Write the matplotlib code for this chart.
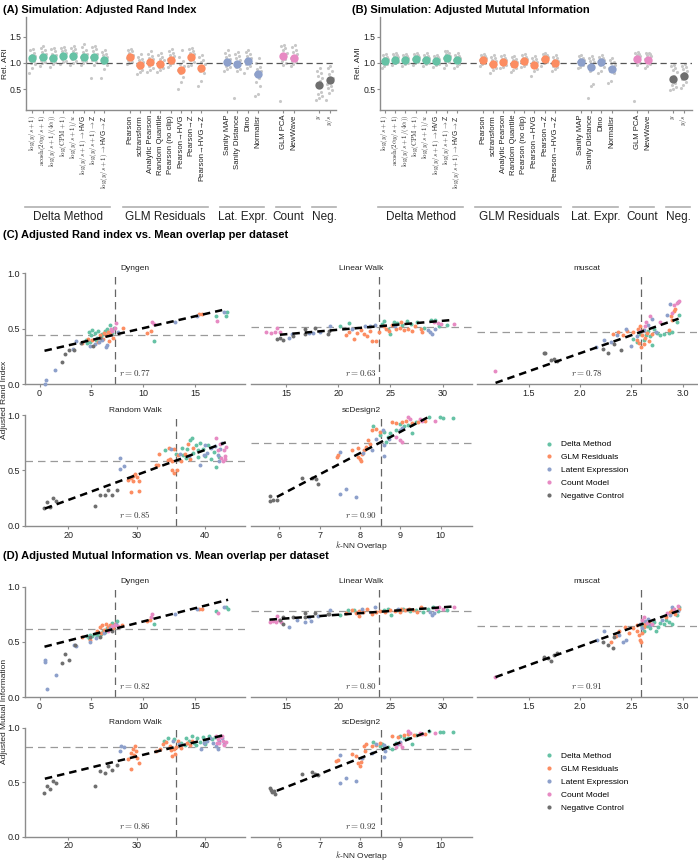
import numpy as np
import matplotlib
matplotlib.use("Agg")
import matplotlib.pyplot as plt
import matplotlib.transforms as mtransforms
from matplotlib.lines import Line2D

plt.rcParams['font.family'] = ['Liberation Sans', 'DejaVu Sans']
plt.rcParams['mathtext.fontset'] = 'cm'

# ---------------------------------------------------------------- data
CATEGORIES = ["Delta Method", "GLM Residuals", "Latent Expression", "Count Model", "Negative Control"]
COLORS = ["#66c2a5", "#fc8d62", "#8da0cb", "#e78ac3", "#6f6f6f"]
GROUP_SHORT = ["Delta Method", "GLM Residuals", "Lat. Expr.", "Count", "Neg."]
GROUP_SIZES = [8, 8, 4, 2, 2]
METHOD_LABELS = [
    r"$\log(y/s+1)$", r"$\mathrm{acosh}(2\alpha y/s+1)$", r"$\log(y/s+1/(4\alpha))$",
    r"$\log(\mathrm{CPM}+1)$", r"$\log(y/s+1)/u$", r"$\log(y/s+1)\to$HVG",
    r"$\log(y/s+1)\to$Z", r"$\log(y/s+1)\to$HVG$\to$Z",
    "Pearson", "sctransform", "Analytic Pearson", "Random Quantile", "Pearson (no clip)",
    "Pearson→HVG", "Pearson→Z", "Pearson→HVG→Z",
    "Sanity MAP", "Sanity Distance", "Dino", "Normalisr",
    "GLM PCA", "NewWave",
    r"$y$", r"$y/s$",
]

ARI_MEANS = [1.096, 1.115, 1.096, 1.128, 1.128, 1.109, 1.109, 1.064,
             1.109, 0.955, 1.019, 0.981, 1.064, 0.872, 1.115, 0.904,
             1.019, 0.981, 1.045, 0.795,
             1.128, 1.096,
             0.571, 0.667]
AMI_MEANS = [1.045, 1.064, 1.058, 1.071, 1.058, 1.038, 1.090, 1.051,
             1.064, 0.981, 1.019, 0.981, 1.038, 0.962, 1.077, 0.994,
             1.019, 0.923, 1.013, 0.885,
             1.077, 1.058,
             0.692, 0.750]

ARI_REPS = [
    [0.80, 0.90, 0.98, 1.00, 1.03, 1.06, 1.10, 1.13, 1.16, 1.20, 1.24, 1.27],
    [0.95, 1.00, 1.02, 1.06, 1.09, 1.12, 1.15, 1.18, 1.21, 1.24, 1.28, 1.33],
    [0.93, 0.98, 1.01, 1.04, 1.07, 1.10, 1.12, 1.15, 1.18, 1.22, 1.26, 1.29],
    [0.98, 1.01, 1.04, 1.08, 1.11, 1.14, 1.17, 1.19, 1.22, 1.25, 1.28, 1.31],
    [0.97, 1.00, 1.04, 1.07, 1.11, 1.14, 1.17, 1.20, 1.23, 1.26, 1.28, 1.33],
    [0.97, 1.00, 1.03, 1.06, 1.09, 1.12, 1.14, 1.18, 1.21, 1.25, 1.30, 1.36],
    [0.71, 0.97, 1.02, 1.05, 1.09, 1.12, 1.15, 1.18, 1.22, 1.26, 1.30, 1.32],
    [0.71, 0.88, 0.96, 1.00, 1.03, 1.06, 1.09, 1.12, 1.15, 1.18, 1.21, 1.25],
    [0.98, 1.00, 1.02, 1.05, 1.08, 1.10, 1.13, 1.16, 1.19, 1.22, 1.24, 1.26],
    [0.79, 0.82, 0.86, 0.90, 0.93, 0.96, 0.99, 1.02, 1.05, 1.08, 1.12, 1.18],
    [0.83, 0.87, 0.91, 0.95, 0.98, 1.01, 1.04, 1.07, 1.10, 1.14, 1.18, 1.22],
    [0.83, 0.86, 0.90, 0.93, 0.96, 0.99, 1.02, 1.05, 1.08, 1.12, 1.15, 1.19],
    [0.92, 0.96, 0.99, 1.02, 1.05, 1.07, 1.10, 1.13, 1.16, 1.19, 1.23, 1.27],
    [0.51, 0.64, 0.74, 0.80, 0.84, 0.87, 0.90, 0.94, 0.98, 1.04, 1.12, 1.24],
    [0.94, 0.97, 1.01, 1.05, 1.08, 1.11, 1.14, 1.17, 1.20, 1.23, 1.26, 1.28],
    [0.55, 0.65, 0.80, 0.84, 0.87, 0.90, 0.94, 0.98, 1.02, 1.06, 1.11, 1.15],
    [0.84, 0.88, 0.92, 0.95, 0.98, 1.01, 1.04, 1.07, 1.11, 1.15, 1.20, 1.25],
    [0.33, 0.85, 0.89, 0.93, 0.96, 0.99, 1.02, 1.05, 1.09, 1.13, 1.17, 1.21],
    [0.80, 0.90, 0.95, 0.98, 1.01, 1.04, 1.07, 1.10, 1.13, 1.17, 1.21, 1.24],
    [0.36, 0.40, 0.55, 0.63, 0.72, 0.78, 0.81, 0.84, 0.88, 0.93, 1.00, 1.10],
    [0.27, 0.96, 1.00, 1.04, 1.08, 1.12, 1.16, 1.20, 1.24, 1.28, 1.32, 1.35],
    [0.94, 0.98, 1.01, 1.04, 1.07, 1.10, 1.13, 1.17, 1.21, 1.25, 1.30, 1.35],
    [0.30, 0.33, 0.36, 0.40, 0.44, 0.58, 0.66, 0.72, 0.76, 0.80, 0.84, 0.90],
    [0.30, 0.42, 0.48, 0.53, 0.56, 0.60, 0.66, 0.72, 0.78, 0.84, 0.90, 0.95],
]
AMI_REPS = [
    [0.90, 0.95, 0.98, 1.00, 1.02, 1.04, 1.06, 1.08, 1.10, 1.12, 1.15, 1.18],
    [0.96, 0.99, 1.01, 1.03, 1.05, 1.07, 1.09, 1.11, 1.13, 1.15, 1.17, 1.19],
    [0.95, 0.98, 1.00, 1.02, 1.04, 1.06, 1.08, 1.10, 1.12, 1.14, 1.16, 1.18],
    [0.97, 1.00, 1.02, 1.04, 1.06, 1.08, 1.10, 1.12, 1.14, 1.16, 1.17, 1.19],
    [0.95, 0.98, 1.00, 1.02, 1.04, 1.06, 1.08, 1.10, 1.12, 1.14, 1.16, 1.20],
    [0.93, 0.96, 0.98, 1.00, 1.02, 1.04, 1.06, 1.08, 1.10, 1.12, 1.14, 1.16],
    [0.90, 0.97, 1.01, 1.04, 1.07, 1.09, 1.11, 1.14, 1.17, 1.20, 1.22, 1.23],
    [0.90, 0.95, 0.98, 1.01, 1.03, 1.05, 1.07, 1.09, 1.11, 1.13, 1.16, 1.19],
    [0.95, 0.98, 1.00, 1.02, 1.04, 1.06, 1.08, 1.10, 1.12, 1.14, 1.16, 1.18],
    [0.80, 0.86, 0.90, 0.93, 0.96, 0.98, 1.00, 1.03, 1.06, 1.09, 1.12, 1.15],
    [0.90, 0.93, 0.96, 0.98, 1.00, 1.02, 1.04, 1.06, 1.08, 1.10, 1.13, 1.16],
    [0.82, 0.87, 0.91, 0.94, 0.96, 0.98, 1.00, 1.02, 1.05, 1.08, 1.11, 1.14],
    [0.92, 0.95, 0.98, 1.00, 1.02, 1.04, 1.06, 1.08, 1.10, 1.12, 1.15, 1.17],
    [0.76, 0.84, 0.88, 0.92, 0.95, 0.97, 0.99, 1.01, 1.04, 1.07, 1.10, 1.14],
    [0.95, 0.99, 1.02, 1.04, 1.06, 1.08, 1.10, 1.12, 1.14, 1.16, 1.18, 1.19],
    [0.84, 0.88, 0.92, 0.95, 0.98, 1.00, 1.02, 1.04, 1.06, 1.09, 1.12, 1.15],
    [0.90, 0.93, 0.96, 0.98, 1.00, 1.02, 1.04, 1.06, 1.08, 1.10, 1.13, 1.15],
    [0.33, 0.55, 0.60, 0.85, 0.90, 0.94, 0.98, 1.01, 1.04, 1.07, 1.10, 1.14],
    [0.80, 0.85, 0.92, 0.96, 0.99, 1.01, 1.03, 1.05, 1.07, 1.09, 1.12, 1.15],
    [0.62, 0.66, 0.80, 0.84, 0.87, 0.90, 0.93, 0.96, 0.99, 1.02, 1.06, 1.10],
    [0.27, 0.96, 0.99, 1.02, 1.05, 1.08, 1.11, 1.14, 1.16, 1.18, 1.20, 1.21],
    [0.90, 0.95, 0.98, 1.01, 1.04, 1.07, 1.10, 1.13, 1.15, 1.17, 1.19, 1.20],
    [0.48, 0.51, 0.54, 0.57, 0.62, 0.70, 0.76, 0.82, 0.86, 0.90, 0.94, 0.97],
    [0.52, 0.58, 0.64, 0.69, 0.73, 0.77, 0.81, 0.85, 0.89, 0.92, 0.95, 0.98],
]

DATASETS = ["Dyngen", "Linear Walk", "muscat", "Random Walk", "scDesign2"]

# per-dataset (k-NN overlap, score) points for each category
ARI_DYNGEN = {
    "Delta Method": [(4.5,0.40),(4.6,0.37),(4.8,0.47),(5.0,0.44),(5.1,0.49),(5.3,0.46),(5.5,0.42),(5.6,0.48),(5.9,0.43),(6.0,0.45),(6.3,0.48),(6.5,0.50),(6.8,0.53),(7.0,0.46),(7.2,0.51),(4.9,0.38),(5.4,0.40),(11.06,0.39),(17.0,0.61),(18.0,0.61),(18.07,0.65)],
    "GLM Residuals": [(4.1,0.37),(4.7,0.41),(5.1,0.40),(5.6,0.38),(5.8,0.44),(6.2,0.46),(6.4,0.44),(6.6,0.47),(6.7,0.39),(6.9,0.49),(7.1,0.42),(6.1,0.41),(6.8,0.45),(8.0,0.51),(10.35,0.46),(10.7,0.48),(15.4,0.63),(15.7,0.63)],
    "Latent Expression": [(0.48,0.0),(0.6,0.04),(1.5,0.13),(3.2,0.32),(3.5,0.39),(4.9,0.34),(5.3,0.36),(6.5,0.35),(6.0,0.40),(7.6,0.47),(13.1,0.56),(15.2,0.61),(17.8,0.65),(5.7,0.38),(6.4,0.33)],
    "Count Model": [(7.4,0.55),(7.3,0.51),(6.9,0.50),(10.8,0.56),(11.0,0.54),(17.1,0.57),(7.0,0.48)],
    "Negative Control": [(2.15,0.196),(2.5,0.27),(2.8,0.31),(3.3,0.31),(4.0,0.37),(5.2,0.34),(5.8,0.42)],
}
ARI_LINEAR = {
    "Delta Method": [(20.2,0.52),(21.0,0.55),(24.2,0.54),(24.4,0.57),(24.8,0.50),(25.0,0.45),(25.6,0.55),(26.1,0.53),(26.6,0.57),(27.0,0.54),(27.6,0.56),(28.2,0.51),(28.9,0.58),(29.3,0.58),(30.4,0.53),(29.7,0.52),(25.3,0.56)],
    "GLM Residuals": [(20.7,0.44),(21.0,0.47),(21.5,0.41),(21.8,0.46),(22.2,0.49),(22.5,0.45),(23.2,0.39),(23.6,0.39),(22.8,0.43),(23.9,0.47),(24.6,0.50),(24.9,0.48),(25.5,0.50),(25.9,0.51),(26.3,0.49),(26.7,0.50),(27.1,0.48),(27.4,0.52),(27.9,0.50),(26.0,0.56),(24.4,0.52),(25.2,0.53),(28.0,0.47),(23.0,0.48)],
    "Latent Expression": [(15.3,0.42),(15.6,0.45),(17.2,0.46),(17.6,0.46),(18.2,0.47),(19.2,0.52),(21.3,0.50),(22.6,0.52),(23.06,0.52),(23.5,0.53),(28.8,0.47),(29.0,0.45),(29.3,0.50),(28.6,0.49),(25.4,0.52)],
    "Count Model": [(13.1,0.47),(13.5,0.46),(13.9,0.47),(14.1,0.51),(14.4,0.47),(29.6,0.55),(29.9,0.54),(31.1,0.54),(29.2,0.56)],
    "Negative Control": [(14.1,0.41),(14.7,0.40),(14.4,0.42),(15.7,0.43),(16.8,0.45),(16.8,0.50),(17.8,0.51),(19.0,0.45),(19.1,0.48)],
}
ARI_MUSCAT = {
    "Delta Method": [(2.55,0.38),(2.58,0.45),(2.62,0.40),(2.64,0.44),(2.66,0.48),(2.68,0.43),(2.70,0.35),(2.72,0.50),(2.75,0.46),(2.78,0.44),(2.82,0.45),(2.87,0.46),(2.90,0.47),(2.96,0.62),(2.94,0.56),(2.52,0.41)],
    "GLM Residuals": [(2.32,0.45),(2.37,0.47),(2.42,0.44),(2.46,0.48),(2.52,0.47),(2.55,0.40),(2.57,0.37),(2.59,0.33),(2.60,0.44),(2.61,0.49),(2.63,0.42),(2.65,0.46),(2.67,0.39),(2.70,0.45),(2.58,0.52),(2.90,0.58),(2.89,0.61),(2.93,0.68),(2.92,0.66),(2.87,0.49),(2.62,0.36),(2.56,0.50)],
    "Latent Expression": [(2.155,0.33),(2.23,0.40),(2.30,0.38),(2.36,0.44),(2.45,0.50),(2.50,0.34),(2.55,0.43),(2.62,0.49),(2.70,0.59),(2.66,0.53),(2.74,0.47),(2.85,0.62),(2.95,0.74),(2.88,0.72)],
    "Count Model": [(1.167,0.12),(2.64,0.56),(2.78,0.56),(2.945,0.73),(2.92,0.71),(2.90,0.64),(2.63,0.52),(2.58,0.48),(2.68,0.61),(2.96,0.75)],
    "Negative Control": [(1.647,0.283),(1.66,0.28),(1.715,0.22),(1.74,0.23),(1.77,0.21),(2.22,0.32),(2.27,0.28),(2.33,0.36),(2.40,0.31)],
}
ARI_RANDOM = {
    "Delta Method": [(34.2,0.68),(35.7,0.65),(36.6,0.70),(37.2,0.61),(37.8,0.77),(38.2,0.66),(38.6,0.73),(38.9,0.62),(39.3,0.75),(39.6,0.69),(40.0,0.63),(40.4,0.73),(40.9,0.60),(41.3,0.67),(41.5,0.53),(42.0,0.62),(38.0,0.79),(39.0,0.68),(37.3,0.69),(36.8,0.64)],
    "GLM Residuals": [(28.7,0.41),(29.1,0.43),(29.4,0.40),(29.7,0.47),(30.0,0.44),(30.4,0.40),(29.2,0.30),(30.4,0.31),(29.5,0.45),(32.8,0.55),(33.1,0.55),(33.2,0.65),(34.7,0.70),(34.9,0.60),(35.2,0.50),(35.4,0.48),(35.9,0.50),(35.5,0.69),(35.1,0.58),(34.6,0.59),(37.0,0.65),(37.5,0.74),(36.0,0.64),(38.2,0.70),(37.8,0.60),(36.5,0.58)],
    "Latent Expression": [(27.6,0.61),(27.6,0.51),(28.2,0.54),(35.0,0.69),(36.3,0.65),(39.2,0.55),(39.8,0.64),(40.3,0.66),(40.8,0.70),(41.4,0.72),(41.8,0.64),(42.2,0.69),(42.5,0.75),(42.0,0.58),(40.0,0.73),(37.6,0.63)],
    "Count Model": [(41.6,0.79),(41.9,0.68),(42.3,0.61),(42.6,0.58),(42.9,0.63),(42.7,0.68),(43.0,0.71),(42.1,0.74),(42.9,0.60)],
    "Negative Control": [(16.53,0.157),(16.9,0.21),(17.35,0.17),(17.8,0.25),(18.2,0.22),(23.86,0.18),(24.6,0.28),(25.3,0.28),(25.8,0.32),(26.4,0.28),(27.1,0.32)],
}
ARI_SCDESIGN = {
    "Delta Method": [(8.33,0.90),(8.5,0.82),(8.6,0.85),(8.7,0.80),(8.75,0.84),(8.9,0.86),(9.0,0.92),(9.1,0.90),(9.2,0.91),(9.3,0.92),(9.3,0.84),(9.7,0.98),(9.98,0.98),(10.05,0.97),(10.3,0.97),(8.65,0.76),(9.4,0.94)],
    "GLM Residuals": [(7.46,0.64),(7.42,0.62),(7.80,0.68),(7.96,0.62),(8.0,0.60),(8.02,0.58),(8.05,0.65),(8.1,0.68),(8.2,0.77),(8.25,0.74),(8.3,0.86),(8.4,0.87),(8.5,0.85),(8.8,0.94),(8.9,0.93),(9.05,0.94),(9.15,0.95),(9.3,0.93),(9.45,0.94),(9.6,0.95),(7.95,0.70),(8.15,0.71)],
    "Latent Expression": [(7.5,0.67),(7.5,0.29),(7.65,0.33),(7.9,0.26),(8.07,0.66),(8.3,0.68),(8.4,0.78),(8.56,0.86),(8.6,0.73),(8.6,0.63),(8.98,0.86),(9.03,0.88),(8.72,0.78)],
    "Count Model": [(8.9,0.80),(9.0,0.77),(9.05,0.76),(9.2,0.98),(9.25,0.96),(9.5,0.96),(9.55,0.95),(9.85,0.95)],
    "Negative Control": [(5.77,0.27),(5.78,0.22),(5.85,0.23),(5.93,0.23),(6.56,0.43),(6.8,0.43),(6.9,0.42),(6.95,0.38)],
}

AMI_DYNGEN = {
    "Delta Method": [(4.6,0.55),(4.9,0.56),(5.1,0.55),(5.3,0.57),(5.5,0.56),(5.7,0.58),(5.9,0.57),(6.1,0.60),(6.3,0.59),(6.5,0.62),(6.8,0.64),(7.0,0.67),(7.5,0.69),(11.0,0.66),(17.0,0.78),(18.0,0.81),(18.2,0.80),(4.8,0.53)],
    "GLM Residuals": [(4.1,0.545),(4.9,0.52),(5.5,0.60),(5.8,0.63),(6.0,0.65),(6.2,0.61),(6.4,0.66),(6.6,0.63),(6.8,0.65),(7.1,0.62),(7.94,0.65),(10.35,0.69),(10.6,0.70),(15.4,0.80),(15.7,0.80),(5.9,0.58),(7.3,0.66)],
    "Latent Expression": [(0.48,0.335),(0.48,0.314),(0.7,0.07),(1.6,0.20),(3.3,0.47),(3.5,0.46),(4.9,0.50),(5.4,0.53),(6.2,0.58),(6.8,0.62),(7.4,0.66),(13.1,0.75),(15.2,0.80),(17.8,0.81)],
    "Count Model": [(6.6,0.60),(7.0,0.64),(7.3,0.65),(7.6,0.64),(10.8,0.75),(10.7,0.72),(17.2,0.76)],
    "Negative Control": [(2.15,0.31),(2.5,0.39),(2.8,0.335),(3.4,0.47),(4.9,0.54),(5.85,0.545),(7.0,0.60)],
}
AMI_LINEAR = {
    "Delta Method": [(20.2,0.74),(20.9,0.79),(21.5,0.79),(24.4,0.79),(24.8,0.80),(25.1,0.74),(25.6,0.79),(26.2,0.80),(26.9,0.78),(27.5,0.79),(28.1,0.77),(28.6,0.80),(29.1,0.81),(30.4,0.79),(29.6,0.78)],
    "GLM Residuals": [(20.7,0.76),(21.3,0.785),(21.7,0.76),(22.0,0.78),(22.4,0.77),(22.8,0.80),(23.2,0.75),(23.6,0.77),(24.0,0.78),(24.5,0.77),(25.0,0.79),(25.4,0.78),(25.9,0.77),(26.4,0.79),(26.8,0.80),(27.2,0.79),(27.6,0.77),(27.9,0.81),(22.0,0.73),(26.0,0.80)],
    "Latent Expression": [(15.3,0.63),(16.0,0.70),(16.8,0.68),(17.2,0.72),(17.4,0.69),(18.1,0.73),(19.2,0.79),(22.3,0.80),(23.5,0.81),(28.8,0.77),(29.0,0.745),(29.2,0.76),(25.7,0.80)],
    "Count Model": [(13.46,0.68),(13.7,0.69),(14.0,0.68),(14.1,0.73),(14.3,0.70),(14.5,0.68),(29.7,0.81),(30.0,0.80),(31.1,0.81),(29.4,0.80)],
    "Negative Control": [(14.7,0.66),(14.4,0.70),(14.7,0.72),(15.7,0.72),(16.8,0.72),(16.8,0.76),(17.8,0.76),(19.0,0.75),(19.1,0.75)],
}
AMI_MUSCAT = {
    "Delta Method": [(2.62,0.60),(2.65,0.64),(2.68,0.62),(2.70,0.66),(2.72,0.68),(2.74,0.60),(2.76,0.63),(2.78,0.67),(2.82,0.66),(2.84,0.70),(2.87,0.68),(2.90,0.66),(2.94,0.74),(2.96,0.81),(2.60,0.64)],
    "GLM Residuals": [(2.30,0.50),(2.35,0.55),(2.38,0.60),(2.44,0.635),(2.48,0.58),(2.52,0.62),(2.55,0.60),(2.57,0.56),(2.58,0.52),(2.59,0.50),(2.60,0.58),(2.62,0.63),(2.63,0.66),(2.67,0.68),(2.84,0.72),(2.88,0.77),(2.90,0.79),(2.93,0.75),(2.96,0.80),(2.55,0.65)],
    "Latent Expression": [(2.16,0.52),(2.23,0.60),(2.38,0.56),(2.42,0.50),(2.45,0.52),(2.58,0.66),(2.60,0.62),(2.63,0.69),(2.66,0.71),(2.68,0.65),(2.80,0.70),(2.88,0.74),(2.95,0.78),(2.90,0.81)],
    "Count Model": [(1.167,0.18),(2.60,0.70),(2.62,0.72),(2.65,0.67),(2.85,0.76),(2.92,0.80),(2.95,0.82),(2.70,0.66)],
    "Negative Control": [(1.647,0.365),(1.69,0.35),(1.715,0.33),(1.74,0.38),(1.77,0.396),(2.22,0.50),(2.27,0.47),(2.33,0.54),(2.32,0.44)],
}
AMI_RANDOM = {
    "Delta Method": [(34.0,0.88),(34.5,0.90),(35.5,0.89),(36.4,0.86),(37.2,0.90),(37.6,0.88),(38.1,0.92),(38.4,0.86),(38.8,0.90),(39.2,0.87),(39.6,0.91),(40.1,0.88),(40.6,0.92),(41.0,0.89),(41.4,0.91),(42.1,0.92),(38.6,0.84),(39.9,0.85),(37.0,0.84)],
    "GLM Residuals": [(28.7,0.71),(29.1,0.62),(29.2,0.77),(29.4,0.80),(29.6,0.75),(29.9,0.78),(30.1,0.72),(30.3,0.67),(29.7,0.83),(32.8,0.78),(33.4,0.80),(33.8,0.85),(34.3,0.87),(34.8,0.83),(35.2,0.74),(35.4,0.80),(35.6,0.76),(35.8,0.82),(36.0,0.88),(35.0,0.79),(36.5,0.81),(37.4,0.86),(38.0,0.88),(37.8,0.84)],
    "Latent Expression": [(27.6,0.78),(27.7,0.83),(28.2,0.82),(35.3,0.88),(36.2,0.85),(39.4,0.80),(39.8,0.86),(40.3,0.88),(40.7,0.90),(41.2,0.86),(41.6,0.83),(42.0,0.88),(42.4,0.90),(42.7,0.85),(41.9,0.80)],
    "Count Model": [(41.5,0.92),(41.8,0.89),(42.0,0.86),(42.3,0.91),(42.6,0.88),(42.8,0.84),(43.0,0.87),(42.5,0.92),(41.7,0.86)],
    "Negative Control": [(16.53,0.40),(16.9,0.46),(17.35,0.44),(17.8,0.51),(18.2,0.49),(23.86,0.46),(24.6,0.60),(25.3,0.58),(25.8,0.65),(26.4,0.61),(27.1,0.66)],
}
AMI_SCDESIGN = {
    "Delta Method": [(8.33,0.87),(8.5,0.83),(8.6,0.83),(8.7,0.82),(8.8,0.80),(8.9,0.86),(9.0,0.92),(9.1,0.90),(9.2,0.90),(9.3,0.85),(9.4,0.93),(9.7,0.97),(9.98,0.96),(10.05,0.96),(10.3,0.96),(8.55,0.85)],
    "GLM Residuals": [(7.46,0.70),(7.40,0.69),(7.8,0.76),(7.96,0.67),(8.0,0.65),(8.03,0.68),(8.05,0.72),(8.1,0.83),(8.15,0.85),(8.3,0.83),(8.4,0.84),(8.5,0.86),(8.8,0.92),(8.95,0.91),(9.1,0.93),(9.2,0.94),(9.35,0.93),(9.5,0.94),(9.6,0.94),(7.9,0.74),(8.12,0.78)],
    "Latent Expression": [(7.5,0.75),(7.5,0.495),(7.65,0.54),(7.9,0.506),(8.05,0.72),(8.3,0.77),(8.4,0.85),(8.6,0.73),(8.62,0.78),(8.95,0.85),(9.0,0.87),(8.6,0.84)],
    "Count Model": [(8.9,0.82),(9.0,0.85),(9.05,0.82),(9.2,0.97),(9.25,0.95),(9.5,0.95),(9.55,0.94),(9.85,0.95)],
    "Negative Control": [(5.77,0.446),(5.80,0.43),(5.83,0.41),(5.9,0.39),(5.88,0.42),(6.56,0.57),(6.8,0.59),(6.88,0.57),(6.95,0.56)],
}

# regression fits: (x_start, x_end), (y_start, y_end)
ARI_FITS = [((0.48, 17.6), (0.30, 0.668)), ((14.4, 30.9), (0.445, 0.578)), ((1.174, 2.96), (0.01, 0.59)),
            ((16.6, 43.0), (0.155, 0.753)), ((5.94, 9.74), (0.26, 0.99))]
AMI_FITS = [((0.48, 18.17), (0.455, 0.88)), ((13.4, 30.9), (0.70, 0.818)), ((1.174, 2.96), (0.18, 0.78)),
            ((16.6, 43.0), (0.53, 0.934)), ((5.94, 9.74), (0.42, 0.97))]
MEAN_OVERLAP = [7.3, 23.86, 2.59, 35.66, 8.52]
ARI_MEAN_SCORE = [0.44, 0.518, 0.47, 0.587, 0.75]
AMI_MEAN_SCORE = [0.614, 0.779, 0.644, 0.823, 0.805]
ARI_R = [0.77, 0.63, 0.78, 0.85, 0.90]
AMI_R = [0.82, 0.80, 0.91, 0.86, 0.92]

XLIMS = [(-1.4, 19.8), (11.6, 32.8), (0.99, 3.14), (13.7, 45.8), (5.29, 10.77)]
XTICKS = [[0, 5, 10, 15], [15, 20, 25, 30], [1.5, 2.0, 2.5, 3.0], [20, 30, 40], [6, 7, 8, 9, 10]]
XTICKLABELS = [["0", "5", "10", "15"], ["15", "20", "25", "30"], ["1.5", "2.0", "2.5", "3.0"],
               ["20", "30", "40"], ["6", "7", "8", "9", "10"]]

# ---------------------------------------------------------------- layout
W, H = 698, 863
fig = plt.figure(figsize=(W / 100, H / 100), dpi=100)
SPINE = "#8c8c8c"


def box(x0, y0, x1, y1):
    return [x0 / W, 1 - y1 / H, (x1 - x0) / W, (y1 - y0) / H]


def style_axis(ax, left=True, labelsize=6.5):
    for s in ["top", "right"]:
        ax.spines[s].set_visible(False)
    ax.spines["left"].set_visible(left)
    for s in ["left", "bottom"]:
        ax.spines[s].set_color(SPINE)
        ax.spines[s].set_linewidth(1.0)
    ax.tick_params(colors=SPINE, labelcolor="#222222", length=2.5, width=0.8, labelsize=labelsize, pad=1)
    if not left:
        ax.tick_params(axis="y", left=False, labelleft=False)


# positions of methods (gap between groups)
positions = []
start = 0.0
group_ranges = []
for g, n in enumerate(GROUP_SIZES):
    p = [start + i for i in range(n)]
    positions.extend(p)
    group_ranges.append((p[0], p[-1]))
    start = p[-1] + 2.5
group_of = [g for g, n in enumerate(GROUP_SIZES) for _ in range(n)]


def draw_sim(ax, means, reps, ylabel, ylabel_x):
    style_axis(ax, labelsize=6.2)
    for i, (p, m, r) in enumerate(zip(positions, means, reps)):
        n = len(r)
        offs = (np.array([((k * 5) % n) / (n - 1) for k in range(n)]) - 0.5) * 0.6
        ax.scatter(p + offs, r, s=5, color="#c8c8c8", lw=0, zorder=1)
        ax.scatter([p], [m], s=36, color=COLORS[group_of[i]], lw=0, zorder=3)
    ax.axhline(1.0, color="#555555", lw=0.9, ls=(0, (5, 3)), zorder=2)
    ax.set_ylim(0.1, 1.88)
    ax.set_yticks([0.5, 1.0, 1.5])
    ax.set_yticklabels(["0.5", "1.0", "1.5"])
    ax.set_xticks(positions)
    ax.set_xticklabels(METHOD_LABELS, rotation=90, fontsize=5.6)
    for k, lab in enumerate(ax.get_xticklabels()):
        if k < 8 or k >= 22:
            lab.set_fontsize(4.9)
    ax.tick_params(axis="x", labelcolor="#222222")
    fig.text(ylabel_x / W, 1 - 63.5 / H, ylabel, rotation=90, fontsize=6, va="center", ha="center",
             color="#222222")
    trans = mtransforms.blended_transform_factory(ax.transData, ax.transAxes)
    for g, (a, b) in enumerate(group_ranges):
        ax.add_line(Line2D([a - 0.7, b + 0.6], [-1.043, -1.043], transform=trans, color="#b0b0b0",
                           lw=1.2, clip_on=False))
        ax.text((a + b) / 2, -1.15, GROUP_SHORT[g], transform=trans, ha="center", va="center",
                fontsize=8.5, color="#222222")


axA = fig.add_axes(box(26, 17, 336, 110))
axA.set_xlim(-0.62, 29.63)
draw_sim(axA, ARI_MEANS, ARI_REPS, "Rel. ARI", 5.5)
axB = fig.add_axes(box(380, 17, 692, 110))
axB.set_xlim(-0.46, 29.8)
draw_sim(axB, AMI_MEANS, AMI_REPS, "Rel. AMI", 358.5)

fig.text(3 / W, 1 - 10 / H, "(A) Simulation: Adjusted Rand Index", fontsize=8, fontweight="bold",
         va="center", ha="left")
fig.text(352 / W, 1 - 10 / H, "(B) Simulation: Adjusted Mututal Information", fontsize=8,
         fontweight="bold", va="center", ha="left")

COLX = [(25, 245), (250.7, 471.7), (476.7, 697)]
GRID = [(0, 0), (0, 1), (0, 2), (1, 0), (1, 1)]


def draw_block(rows, data_list, fits, hlines, rs, title, title_y, ylabel, legend_y, xlabel_y):
    fig.text(3 / W, 1 - title_y / H, title, fontsize=8, fontweight="bold", va="center", ha="left")
    for d, name in enumerate(DATASETS):
        r_i, c_i = GRID[d]
        y0, y1 = rows[r_i]
        x0, x1 = COLX[c_i]
        ax = fig.add_axes(box(x0, y0, x1, y1))
        style_axis(ax, left=(c_i == 0))
        for k, cat in enumerate(CATEGORIES):
            pts = np.array(data_list[d][cat])
            ax.scatter(pts[:, 0], pts[:, 1], s=8, color=COLORS[k], lw=0, zorder=3, clip_on=False)
        (fx, fy) = fits[d]
        ax.plot(fx, fy, color="black", lw=1.8, ls=(0, (3, 2)), zorder=4)
        ax.axvline(MEAN_OVERLAP[d], color="#666666", lw=0.9, ls=(0, (6, 4)), zorder=1)
        ax.axhline(hlines[d], color="#9a9a9a", lw=0.9, ls=(0, (6, 4)), zorder=1)
        ax.text(0.5, 0.1, rf"$r = {rs[d]:.2f}$", transform=ax.transAxes, ha="center", va="center",
                fontsize=6.5, color="#333333")
        ax.set_xlim(*XLIMS[d])
        ax.set_xticks(XTICKS[d])
        ax.set_xticklabels(XTICKLABELS[d])
        ax.set_ylim(0, 1)
        ax.set_yticks([0, 0.5, 1.0])
        ax.set_yticklabels(["0.0", "0.5", "1.0"])
        ax.set_title(name, fontsize=6, pad=2.5, color="#222222")
        if name == "scDesign2":
            xc = (x0 + x1) / 2
            fig.text(xc / W, 1 - xlabel_y / H, r"$k$-NN Overlap", fontsize=6, ha="center", va="center",
                     color="#222222")
    yc = (rows[0][0] + rows[1][1]) / 2
    fig.text(5 / W, 1 - yc / H, ylabel, rotation=90, fontsize=6, va="center", ha="center", color="#222222")
    handles = [Line2D([], [], ls="none", marker="o", markersize=3, markeredgewidth=0, color=c)
               for c in COLORS]
    fig.legend(handles, CATEGORIES, loc="center left", bbox_to_anchor=(545.3 / W, 1 - legend_y / H),
               frameon=False, fontsize=6, handlelength=1.0, handletextpad=0.9, borderpad=0,
               labelspacing=0.6, borderaxespad=0)


draw_block([(273.3, 384), (415, 525.7)],
           [ARI_DYNGEN, ARI_LINEAR, ARI_MUSCAT, ARI_RANDOM, ARI_SCDESIGN],
           ARI_FITS, ARI_MEAN_SCORE, ARI_R,
           "(C) Adjusted Rand index vs. Mean overlap per dataset", 235, "Adjusted Rand Index", 470.2, 545)
draw_block([(586.5, 697), (727.5, 836.5)],
           [AMI_DYNGEN, AMI_LINEAR, AMI_MUSCAT, AMI_RANDOM, AMI_SCDESIGN],
           AMI_FITS, AMI_MEAN_SCORE, AMI_R,
           "(D) Adjusted Mutual Information vs. Mean overlap per dataset", 556, "Adjusted Mutual Information",
           782, 855.5)

fig.savefig("out.png", dpi=100)
